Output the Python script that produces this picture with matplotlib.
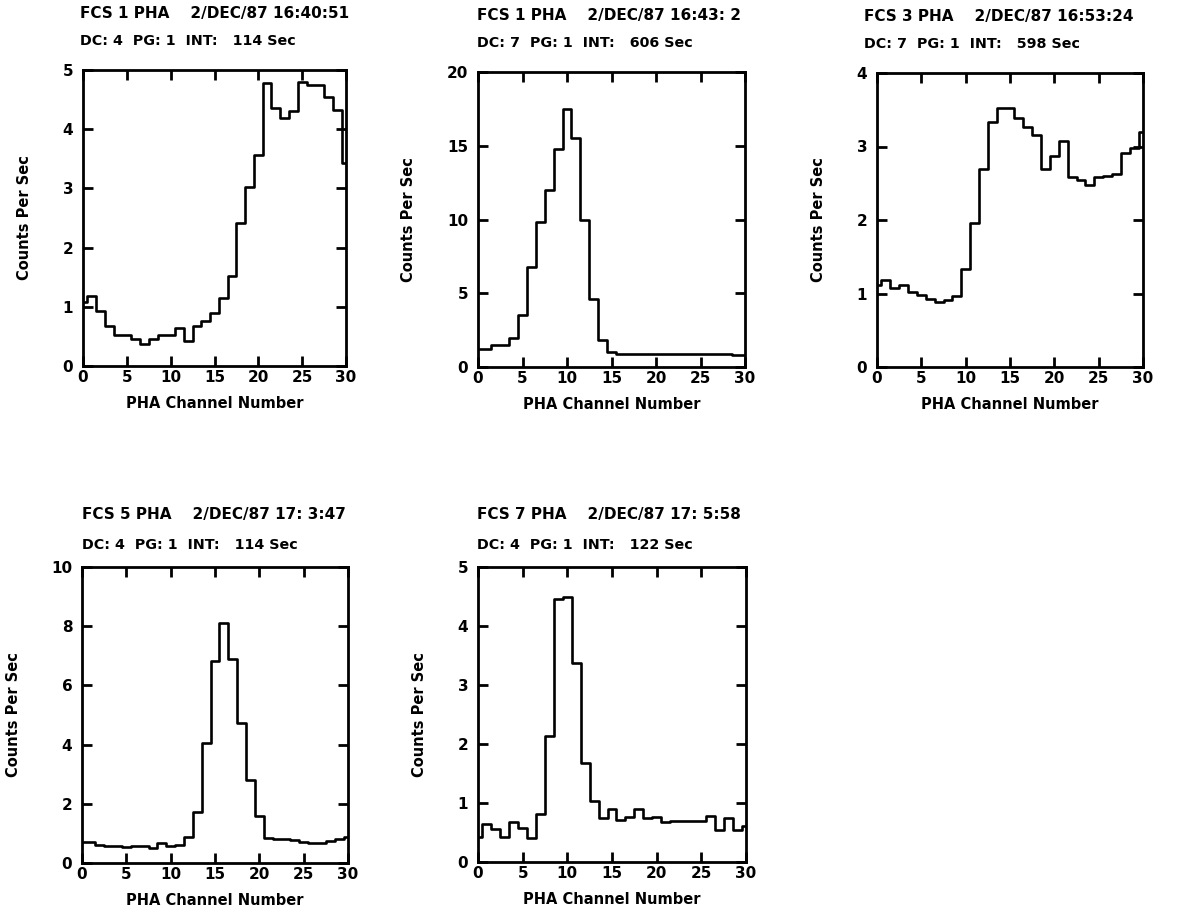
import numpy as np
from matplotlib import pyplot as plt

plt.rcParams['font.family'] = ['DejaVu Sans']
plt.rcParams['font.weight'] = 'bold'

channels = np.arange(0, 31)

# counts per sec, one value per PHA channel 0..30
fcs1_a = [1.08, 1.18, 0.93, 0.67, 0.53, 0.53, 0.45, 0.37, 0.45, 0.53,
          0.53, 0.65, 0.42, 0.67, 0.76, 0.90, 1.15, 1.52, 2.42, 3.03,
          3.57, 4.78, 4.35, 4.19, 4.30, 4.80, 4.75, 4.75, 4.55, 4.33, 3.43]
fcs1_b = [1.2, 1.2, 1.5, 1.5, 2.0, 3.5, 6.8, 9.8, 12.0, 14.8,
          17.5, 15.5, 10.0, 4.6, 1.8, 1.0, 0.85, 0.85, 0.85, 0.85,
          0.85, 0.85, 0.85, 0.9, 0.9, 0.9, 0.85, 0.85, 0.85, 0.8, 0.8]
fcs3 = [1.12, 1.18, 1.07, 1.11, 1.02, 0.98, 0.93, 0.89, 0.91, 0.96,
        1.34, 1.96, 2.70, 3.33, 3.52, 3.52, 3.39, 3.27, 3.15, 2.69,
        2.87, 3.07, 2.59, 2.54, 2.48, 2.58, 2.60, 2.63, 2.91, 2.98, 3.20]
fcs5 = [0.72, 0.72, 0.61, 0.56, 0.56, 0.53, 0.56, 0.56, 0.50, 0.67,
        0.56, 0.61, 0.89, 1.72, 4.06, 6.83, 8.10, 6.89, 4.72, 2.80,
        1.58, 0.83, 0.80, 0.80, 0.78, 0.72, 0.67, 0.67, 0.76, 0.81, 0.87]
fcs7 = [0.43, 0.64, 0.56, 0.43, 0.67, 0.57, 0.41, 0.82, 2.13, 4.46,
        4.50, 3.38, 1.68, 1.04, 0.74, 0.90, 0.71, 0.76, 0.89, 0.74,
        0.77, 0.68, 0.69, 0.69, 0.69, 0.69, 0.78, 0.54, 0.74, 0.54, 0.61]

titles = ['FCS 1 PHA    2/DEC/87 16:40:51',
          'FCS 1 PHA    2/DEC/87 16:43: 2',
          'FCS 3 PHA    2/DEC/87 16:53:24',
          'FCS 5 PHA    2/DEC/87 17: 3:47',
          'FCS 7 PHA    2/DEC/87 17: 5:58']
subtitles = ['DC: 4  PG: 1  INT:   114 Sec',
             'DC: 7  PG: 1  INT:   606 Sec',
             'DC: 7  PG: 1  INT:   598 Sec',
             'DC: 4  PG: 1  INT:   114 Sec',
             'DC: 4  PG: 1  INT:   122 Sec']
ymax = [5, 20, 4, 10, 5]
ystep = [1, 5, 1, 2, 1]
series = [fcs1_a, fcs1_b, fcs3, fcs5, fcs7]

W, H = 1180, 916
# axes boxes in pixels: left, top, right, bottom
boxes = [(83, 70, 346, 366), (478, 72, 745, 367), (877, 73, 1143, 367),
         (82, 567, 348, 863), (478, 567, 746, 862)]
title_dx = [-2, -1, -9, 0, -1]
title_dy = [(41, 21), (41, 21), (41, 21), (37.5, 16), (37.5, 16)]

fig = plt.figure(figsize=(W / 100, H / 100), dpi=100)

for i in range(5):
    l, t, r, b = boxes[i]
    ax = fig.add_axes([l / W, 1 - b / H, (r - l) / W, (b - t) / H])
    ax.plot(channels, series[i], drawstyle='steps-mid', color='black', lw=1.9)
    ax.set_xlim(0, 30)
    ax.set_ylim(0, ymax[i])
    ax.set_xticks(np.arange(0, 31, 5))
    ax.set_yticks(np.arange(0, ymax[i] + 0.01, ystep[i]))
    ax.tick_params(direction='in', top=True, right=True, length=7, width=2,
                   labelsize=11)
    ax.tick_params(axis='x', pad=3)
    ax.tick_params(axis='y', pad=7)
    for s in ax.spines.values():
        s.set_linewidth(2)
    ax.set_xlabel('PHA Channel Number', fontsize=10.5, fontweight='bold', labelpad=8)
    ax.set_ylabel('Counts Per Sec', fontsize=10.5, fontweight='bold', labelpad=22)
    ax.annotate(titles[i], xy=(0, 1), xycoords='axes fraction',
                xytext=(title_dx[i], title_dy[i][0]), textcoords='offset points',
                fontsize=11, fontweight='bold', va='center', ha='left')
    ax.annotate(subtitles[i], xy=(0, 1), xycoords='axes fraction',
                xytext=(title_dx[i], title_dy[i][1]), textcoords='offset points',
                fontsize=10.3, fontweight='bold', va='center', ha='left')

fig.savefig('out.png', dpi=100, facecolor='white')
